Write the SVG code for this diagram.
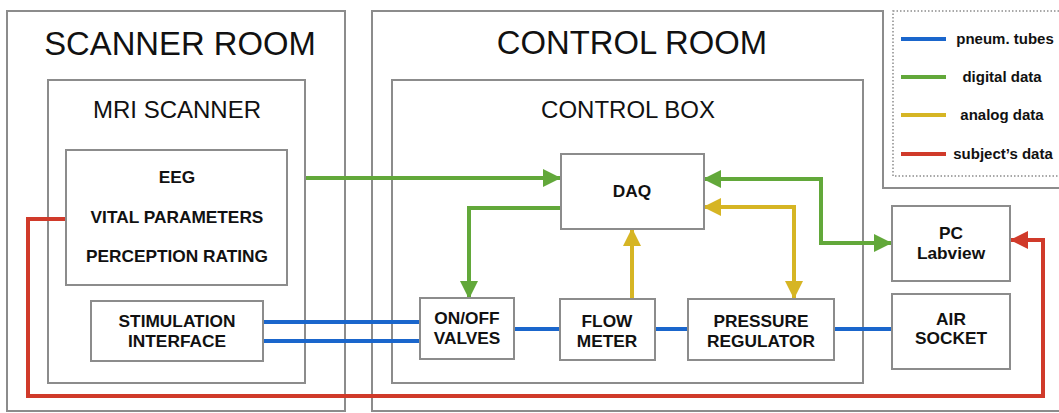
<svg xmlns="http://www.w3.org/2000/svg" width="1059" height="413" viewBox="0 0 1059 413">
<style>
.box{fill:none;stroke:#8c8c8c;stroke-width:2}
.nb{fill:#fff;stroke:#8c8c8c;stroke-width:2}
.big{font-family:"Liberation Sans",Arial,sans-serif;font-size:32.8px;fill:#111;text-anchor:middle}
.mid{font-family:"Liberation Sans",Arial,sans-serif;font-size:24px;fill:#111;text-anchor:middle}
.lbl{font-family:"Liberation Sans",Arial,sans-serif;font-size:17.3px;font-weight:bold;fill:#111;text-anchor:middle}
.leg{font-family:"Liberation Sans",Arial,sans-serif;font-size:15px;font-weight:bold;fill:#111;text-anchor:middle}
.c{fill:none;stroke-width:4}
.bl{stroke:#1a66cc}.gr{stroke:#62a83a}.ye{stroke:#d6b524}.rd{stroke:#d03a2a}
</style>
<defs>
<marker id="ag" viewBox="0 0 18 18" refX="17" refY="9" markerWidth="18" markerHeight="18" markerUnits="userSpaceOnUse" orient="auto-start-reverse"><path d="M0,0 L18,9 L0,18 Z" fill="#62a83a"/></marker>
<marker id="ay" viewBox="0 0 18 18" refX="17" refY="9" markerWidth="18" markerHeight="18" markerUnits="userSpaceOnUse" orient="auto-start-reverse"><path d="M0,0 L18,9 L0,18 Z" fill="#d6b524"/></marker>
<marker id="ar" viewBox="0 0 18 18" refX="17" refY="9" markerWidth="18" markerHeight="18" markerUnits="userSpaceOnUse" orient="auto-start-reverse"><path d="M0,0 L18,9 L0,18 Z" fill="#d03a2a"/></marker>
</defs>
<rect width="1059" height="413" fill="#fff"/>
<g id="scanner-room">
<rect class="box" x="7" y="11" width="338" height="400"/>
<text class="big" x="180" y="55">SCANNER ROOM</text>
</g>
<g id="mri-scanner">
<rect class="box" x="48" y="80" width="257" height="303"/>
<text class="mid" x="177" y="118">MRI SCANNER</text>
</g>
<g id="control-room">
<path class="box" d="M1062,411 L372,411 L372,11 L883,11 L883,188 L1062,188"/>
<text class="big" x="632" y="54">CONTROL ROOM</text>
</g>
<g id="control-box">
<rect class="box" x="392" y="80" width="471" height="303"/>
<text class="mid" x="628" y="118">CONTROL BOX</text>
</g>
<g id="legend">
<rect x="893" y="11" width="180" height="165" fill="none" stroke="#8c8c8c" stroke-width="1.5" stroke-dasharray="1.5,2"/>
<line class="c bl" x1="901" y1="39" x2="946" y2="39"/>
<text class="leg" x="1005" y="44">pneum. tubes</text>
<line class="c gr" x1="901" y1="77" x2="946" y2="77"/>
<text class="leg" x="1002" y="82">digital data</text>
<line class="c ye" x1="901" y1="115" x2="946" y2="115"/>
<text class="leg" x="1002" y="120">analog data</text>
<line class="c rd" x1="901" y1="154" x2="946" y2="154"/>
<text class="leg" x="1003" y="159">subject’s data</text>
</g>
<g id="connectors">
<line class="c bl" x1="263" y1="322" x2="420" y2="322"/>
<line class="c bl" x1="263" y1="341" x2="420" y2="341"/>
<line class="c bl" x1="514" y1="329" x2="560" y2="329"/>
<line class="c bl" x1="655" y1="329" x2="688" y2="329"/>
<line class="c bl" x1="834" y1="329" x2="892" y2="329"/>
<path class="c gr" d="M306,178 L560,178" marker-end="url(#ag)"/>
<path class="c gr" d="M561,208 L469,208 L469,298" marker-end="url(#ag)"/>
<path class="c gr" d="M704,179 L821,179 L821,243 L891,243" marker-start="url(#ag)" marker-end="url(#ag)"/>
<path class="c ye" d="M704,207 L794,207 L794,298" marker-start="url(#ay)" marker-end="url(#ay)"/>
<path class="c ye" d="M632,299 L632,229" marker-end="url(#ay)"/>
<path class="c rd" d="M66,219 L28,219 L28,396 L1043,396 L1043,240 L1011,240" marker-end="url(#ar)"/>
</g>
<g id="eeg-box">
<rect class="nb" x="66" y="150" width="221" height="135"/>
<text class="lbl" x="177" y="183">EEG</text>
<text class="lbl" x="177" y="223">VITAL PARAMETERS</text>
<text class="lbl" x="177" y="262">PERCEPTION RATING</text>
</g>
<g id="stimulation-interface">
<rect class="nb" x="91" y="301" width="172" height="60"/>
<text class="lbl" x="177" y="327">STIMULATION</text>
<text class="lbl" x="177" y="347">INTERFACE</text>
</g>
<g id="daq">
<rect class="nb" x="561" y="154" width="143" height="75"/>
<text class="lbl" x="632" y="197">DAQ</text>
</g>
<g id="valves">
<rect class="nb" x="420" y="298" width="94" height="61"/>
<text class="lbl" x="467" y="324">ON/OFF</text>
<text class="lbl" x="467" y="344">VALVES</text>
</g>
<g id="flow-meter">
<rect class="nb" x="560" y="299" width="95" height="61"/>
<text class="lbl" x="607" y="327">FLOW</text>
<text class="lbl" x="607" y="347">METER</text>
</g>
<g id="pressure-regulator">
<rect class="nb" x="688" y="299" width="146" height="61"/>
<text class="lbl" x="761" y="327">PRESSURE</text>
<text class="lbl" x="761" y="347">REGULATOR</text>
</g>
<g id="pc-labview">
<rect class="nb" x="892" y="206" width="118" height="75"/>
<text class="lbl" x="951" y="239">PC</text>
<text class="lbl" x="951" y="259">Labview</text>
</g>
<g id="air-socket">
<rect class="nb" x="892" y="294" width="118" height="75"/>
<text class="lbl" x="951" y="325">AIR</text>
<text class="lbl" x="951" y="344">SOCKET</text>
</g>
</svg>
